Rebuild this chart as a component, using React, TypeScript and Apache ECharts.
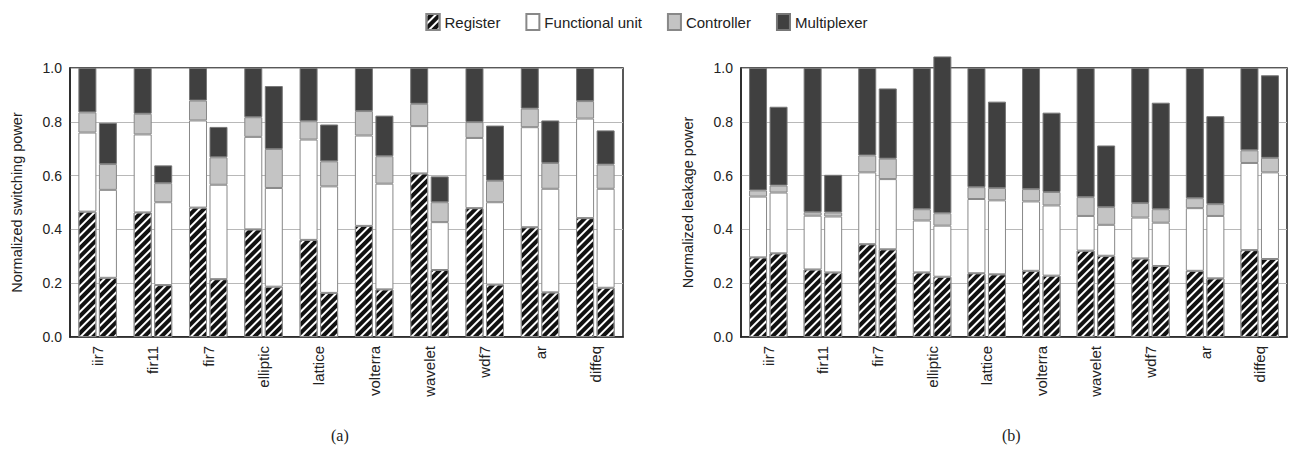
import React, { useEffect, useRef } from "react";
import * as echarts from "echarts";

const categories = ["iir7", "fir11", "fir7", "elliptic", "lattice", "volterra", "wavelet", "wdf7", "ar", "diffeq"];
const components = ["Register", "Functional unit", "Controller", "Multiplexer"];
const yTicks = [0, 0.2, 0.4, 0.6, 0.8, 1.0];

// (a) switching power — first bar of each pair
const swRegister1 = [0.466, 0.463, 0.481, 0.4, 0.361, 0.413, 0.608, 0.479, 0.408, 0.442];
const swFunctional1 = [0.294, 0.29, 0.324, 0.344, 0.373, 0.336, 0.176, 0.261, 0.372, 0.37];
const swController1 = [0.075, 0.077, 0.074, 0.073, 0.068, 0.091, 0.083, 0.059, 0.069, 0.065];
const swMultiplexer1 = [0.165, 0.17, 0.121, 0.183, 0.198, 0.16, 0.133, 0.201, 0.151, 0.123];
// (a) switching power — second bar of each pair
const swRegister2 = [0.22, 0.193, 0.215, 0.187, 0.164, 0.177, 0.249, 0.195, 0.166, 0.183];
const swFunctional2 = [0.327, 0.308, 0.351, 0.367, 0.396, 0.393, 0.178, 0.306, 0.385, 0.368];
const swController2 = [0.096, 0.071, 0.102, 0.145, 0.093, 0.102, 0.074, 0.08, 0.096, 0.09];
const swMultiplexer2 = [0.153, 0.066, 0.113, 0.234, 0.137, 0.151, 0.096, 0.205, 0.158, 0.127];

// (b) leakage power — first bar of each pair
const lkRegister1 = [0.296, 0.251, 0.345, 0.24, 0.237, 0.246, 0.321, 0.292, 0.246, 0.323];
const lkFunctional1 = [0.226, 0.2, 0.267, 0.193, 0.276, 0.258, 0.129, 0.152, 0.233, 0.324];
const lkController1 = [0.023, 0.013, 0.063, 0.042, 0.044, 0.046, 0.07, 0.054, 0.037, 0.047];
const lkMultiplexer1 = [0.455, 0.536, 0.325, 0.525, 0.443, 0.45, 0.48, 0.502, 0.484, 0.306];
// (b) leakage power — second bar of each pair
const lkRegister2 = [0.311, 0.24, 0.326, 0.224, 0.233, 0.228, 0.302, 0.264, 0.218, 0.29];
const lkFunctional2 = [0.226, 0.208, 0.261, 0.19, 0.275, 0.261, 0.115, 0.161, 0.232, 0.322];
const lkController2 = [0.026, 0.015, 0.076, 0.046, 0.046, 0.05, 0.066, 0.05, 0.044, 0.054];
const lkMultiplexer2 = [0.293, 0.14, 0.261, 0.583, 0.321, 0.295, 0.229, 0.396, 0.327, 0.307];

const swBars = [
  [swRegister1, swFunctional1, swController1, swMultiplexer1],
  [swRegister2, swFunctional2, swController2, swMultiplexer2],
];
const lkBars = [
  [lkRegister1, lkFunctional1, lkController1, lkMultiplexer1],
  [lkRegister2, lkFunctional2, lkController2, lkMultiplexer2],
];

const FONT = "'Liberation Sans', Arial, sans-serif";

const styles: any[] = [
  {
    color: "#111111",
    borderColor: "#888888",
    borderWidth: 1,
    decal: {
      symbol: "rect",
      symbolSize: 1,
      color: "#ffffff",
      dashArrayX: [1, 0],
      dashArrayY: [1.6, 3.2],
      rotation: -Math.PI / 4,
    },
  },
  { color: "#ffffff", borderColor: "#888888", borderWidth: 1 },
  { color: "#c4c4c4", borderColor: "#888888", borderWidth: 1 },
  { color: "#404040", borderColor: "#777777", borderWidth: 1 },
];

export default function App() {
  const ref = useRef<HTMLDivElement>(null);
  useEffect(() => {
    if (!ref.current) return;
    const chart = echarts.init(ref.current, undefined, { renderer: "svg" });

    const series: any[] = [];
    [swBars, lkBars].forEach((bars, c) => {
      bars.forEach((comps, k) => {
        comps.forEach((data, j) => {
          series.push({
            type: "bar",
            name: components[j],
            xAxisIndex: c,
            yAxisIndex: c,
            stack: `c${c}b${k}`,
            barWidth: 18,
            barGap: "14%",
            clip: false,
            data,
            itemStyle: styles[j],
          });
        });
      });
    });

    const grids = [
      { left: 70, right: 670, top: 68, bottom: 114 },
      { left: 741, right: 6, top: 68, bottom: 114 },
    ];
    const names = ["Normalized switching power", "Normalized leakage power"];

    chart.setOption({
      animation: false,
      legend: {
        top: 8,
        left: "center",
        icon: "rect",
        itemWidth: 13,
        itemHeight: 16,
        itemGap: 25,
        data: components,
        textStyle: { fontFamily: FONT, fontSize: 15, color: "#222" },
      },
      grid: grids.map((g) => ({ ...g, show: true, borderColor: "#222", borderWidth: 1.5, containLabel: false })),
      xAxis: grids.map((_, i) => ({
        type: "category",
        gridIndex: i,
        data: categories,
        axisLine: { show: true, lineStyle: { color: "#222", width: 1.5 } },
        axisTick: { show: false },
        axisLabel: { interval: 0, rotate: 90, margin: 9, fontFamily: FONT, fontSize: 15, color: "#222" },
      })),
      yAxis: grids.map((_, i) => ({
        type: "value",
        gridIndex: i,
        min: yTicks[0],
        max: yTicks[yTicks.length - 1],
        interval: 0.2,
        name: names[i],
        nameLocation: "middle",
        nameGap: 46,
        nameTextStyle: { fontFamily: FONT, fontSize: 14.5, color: "#222" },
        axisLine: { show: true, lineStyle: { color: "#222", width: 1.5 } },
        axisTick: { show: false },
        axisLabel: { fontFamily: FONT, fontSize: 14, color: "#222", margin: 8, formatter: (v: number) => v.toFixed(1) },
        splitLine: { show: true, lineStyle: { color: "#b8b8b8", width: 1 } },
      })),
      graphic: [
        { type: "text", left: 331, top: 427, style: { text: "(a)", font: "16px 'Liberation Serif', 'Times New Roman', serif", fill: "#222" } },
        { type: "text", left: 1002, top: 427, style: { text: "(b)", font: "16px 'Liberation Serif', 'Times New Roman', serif", fill: "#222" } },
      ],
      series,
    });
    return () => chart.dispose();
  }, []);
  return <div ref={ref} style={{ position: "fixed", left: 0, top: 0, width: 1293, height: 451, background: "#fff" }} />;
}
